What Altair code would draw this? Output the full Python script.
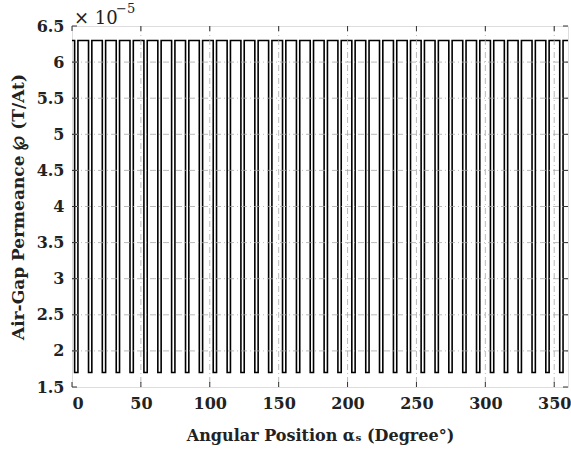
import altair as alt
import pandas as pd

# Values (x in degrees, y in units of 1e-5 T/At)
dip_centers = [3.1, 13.2, 23.2, 33.3, 43.3, 53.4, 63.5, 73.5, 83.6, 93.6,
               103.7, 113.8, 123.8, 133.9, 143.9, 154.0, 164.1, 174.1, 184.2, 194.2,
               204.3, 214.4, 224.4, 234.5, 244.5, 254.6, 264.7, 274.7, 284.8, 294.8,
               304.9, 315.0, 325.0, 335.1, 345.1, 355.2]
dip_half_width = 1.2
high_level = 6.3
low_level = 1.7
x_ticks = [0, 50, 100, 150, 200, 250, 300, 350]
y_ticks = [1.5, 2, 2.5, 3, 3.5, 4, 4.5, 5, 5.5, 6, 6.5]

rows = [(0.0, high_level)]
for c in dip_centers:
    rows += [(c - dip_half_width, high_level), (c - dip_half_width, low_level),
             (c + dip_half_width, low_level), (c + dip_half_width, high_level)]
rows.append((360.0, high_level))
df = pd.DataFrame(rows, columns=["x", "y"])
df["i"] = range(len(df))

FONT = "DejaVu Serif"
xs = alt.Scale(domain=[0, 360], nice=False, zero=False)
ys = alt.Scale(domain=[1.5, 6.5], nice=False, zero=False)

W, H = 496, 361
grid_dash = [6, 3, 1, 3]

xaxis = alt.Axis(values=x_ticks, title="Angular Position αₛ (Degree°)", format="d",
                 grid=False, ticks=False, domain=False, labelOverlap=False,
                 labelFont=FONT, labelFontWeight="bold", labelFontSize=16,
                 labelColor="#222", labelPadding=8,
                 titleFont=FONT, titleFontWeight="bold", titleFontSize=16,
                 titleColor="#222", titlePadding=16)
yaxis = alt.Axis(values=y_ticks, title="Air-Gap Permeance ℘ (T/At)", format="~g",
                 grid=False, ticks=False, domain=False, labelOverlap=False,
                 labelFont=FONT, labelFontWeight="bold", labelFontSize=16,
                 labelColor="#222", labelPadding=8,
                 titleFont=FONT, titleFontWeight="bold", titleFontSize=17,
                 titleColor="#222", titlePadding=9)

line = alt.Chart(df).mark_line(color="black", strokeWidth=1.6, interpolate="linear").encode(
    x=alt.X("x:Q", scale=xs, axis=xaxis),
    y=alt.Y("y:Q", scale=ys, axis=yaxis),
    order="i:Q",
)

xgrid = alt.Chart(pd.DataFrame({"t": x_ticks[1:]})).mark_rule(
    color="#a8a8a8", strokeWidth=0.8, strokeDash=grid_dash
).encode(x=alt.X("t:Q", scale=xs, axis=xaxis), y=alt.value(0), y2=alt.value(H))
ygrid = alt.Chart(pd.DataFrame({"t": y_ticks[1:-1]})).mark_rule(
    color="#a8a8a8", strokeWidth=0.8, strokeDash=grid_dash
).encode(y=alt.Y("t:Q", scale=ys, axis=yaxis), x=alt.value(0), x2=alt.value(W))

# inward tick marks
tx = pd.DataFrame({"t": x_ticks})
ty = pd.DataFrame({"t": y_ticks})
tb = alt.Chart(tx).mark_rule(color="#333", strokeWidth=1).encode(
    x=alt.X("t:Q", scale=xs, axis=xaxis), y=alt.value(H), y2=alt.value(H - 5))
tt = alt.Chart(tx).mark_rule(color="#333", strokeWidth=1).encode(
    x=alt.X("t:Q", scale=xs, axis=xaxis), y=alt.value(0), y2=alt.value(5))
tl = alt.Chart(ty).mark_rule(color="#333", strokeWidth=1).encode(
    y=alt.Y("t:Q", scale=ys, axis=yaxis), x=alt.value(0), x2=alt.value(5))
tr = alt.Chart(ty).mark_rule(color="#333", strokeWidth=1).encode(
    y=alt.Y("t:Q", scale=ys, axis=yaxis), x=alt.value(W), x2=alt.value(W - 5))

ann = pd.DataFrame({"a": [0]})
times = alt.Chart(ann).mark_text(text="× 10", font=FONT, fontSize=18, align="left",
                                 baseline="alphabetic", color="#222").encode(
    x=alt.value(2), y=alt.value(-2))
expo = alt.Chart(ann).mark_text(text="−5", font=FONT, fontSize=13, align="left",
                                baseline="alphabetic", color="#222").encode(
    x=alt.value(44), y=alt.value(-13))

chart = alt.layer(line, xgrid, ygrid, tb, tt, tl, tr, times, expo).properties(
    width=W, height=H,
    padding={"left": 72, "top": 26, "right": 3, "bottom": 63},
    autosize=alt.AutoSizeParams(type="none"),
).configure_view(stroke="#333", strokeWidth=1.2).configure_axis(
    labelOverlap=False
).configure(background="white")

chart.save("out.html", embed_options={"renderer": "svg", "actions": False})
